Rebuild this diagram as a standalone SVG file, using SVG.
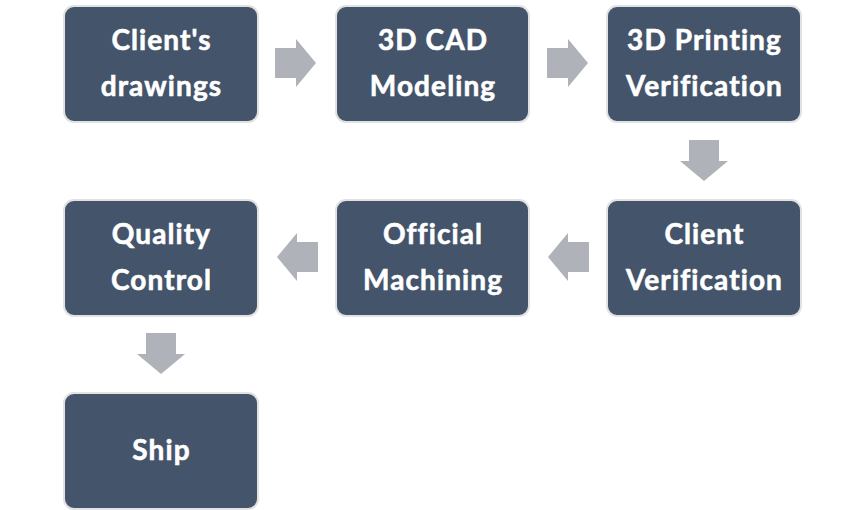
<svg xmlns="http://www.w3.org/2000/svg" width="865" height="510" viewBox="0 0 865 510">
<style>
.box{fill:#44546A;stroke:#E2E2E2;stroke-width:2}
.lbl{font-family:"Lato","Liberation Sans",sans-serif;font-weight:700;font-size:28px;letter-spacing:1.1px;fill:#FFFFFF;stroke:#FFFFFF;stroke-width:0.6;text-anchor:middle}
.arr{fill:#AFB2B9}
</style>
<defs>
<path id="ar" d="M0,-15 H21 V-24 L41,0 L21,24 V15 H0 Z"/>
</defs>
<rect width="865" height="510" fill="#FFFFFF"/>
<g id="connectors" class="arr">
<use href="#ar" transform="translate(275,63)"/>
<use href="#ar" transform="translate(547,63)"/>
<use href="#ar" transform="translate(704,140) rotate(90)"/>
<use href="#ar" transform="translate(589,257) rotate(180)"/>
<use href="#ar" transform="translate(318,257) rotate(180)"/>
<use href="#ar" transform="translate(161,333) rotate(90)"/>
</g>
<g id="n1"><rect class="box" x="64" y="6" width="194" height="116" rx="10"/><text class="lbl" x="161.5" y="50">Client's</text><text class="lbl" x="161.5" y="96">drawings</text></g>
<g id="n2"><rect class="box" x="336" y="6" width="193" height="116" rx="10"/><text class="lbl" x="433" y="50">3D CAD</text><text class="lbl" x="433" y="96">Modeling</text></g>
<g id="n3"><rect class="box" x="607" y="6" width="194" height="116" rx="10"/><text class="lbl" x="704.5" y="50">3D Printing</text><text class="lbl" x="704.5" y="96">Verification</text></g>
<g id="n4"><rect class="box" x="607" y="200" width="194" height="116" rx="10"/><text class="lbl" x="704.5" y="244">Client</text><text class="lbl" x="704.5" y="290">Verification</text></g>
<g id="n5"><rect class="box" x="336" y="200" width="193" height="116" rx="10"/><text class="lbl" x="433" y="244">Official</text><text class="lbl" x="433" y="290">Machining</text></g>
<g id="n6"><rect class="box" x="64" y="200" width="194" height="116" rx="10"/><text class="lbl" x="161.5" y="244">Quality</text><text class="lbl" x="161.5" y="290">Control</text></g>
<g id="n7"><rect class="box" x="64" y="393" width="194" height="116" rx="10"/><text class="lbl" x="161.5" y="460">Ship</text></g>
</svg>
